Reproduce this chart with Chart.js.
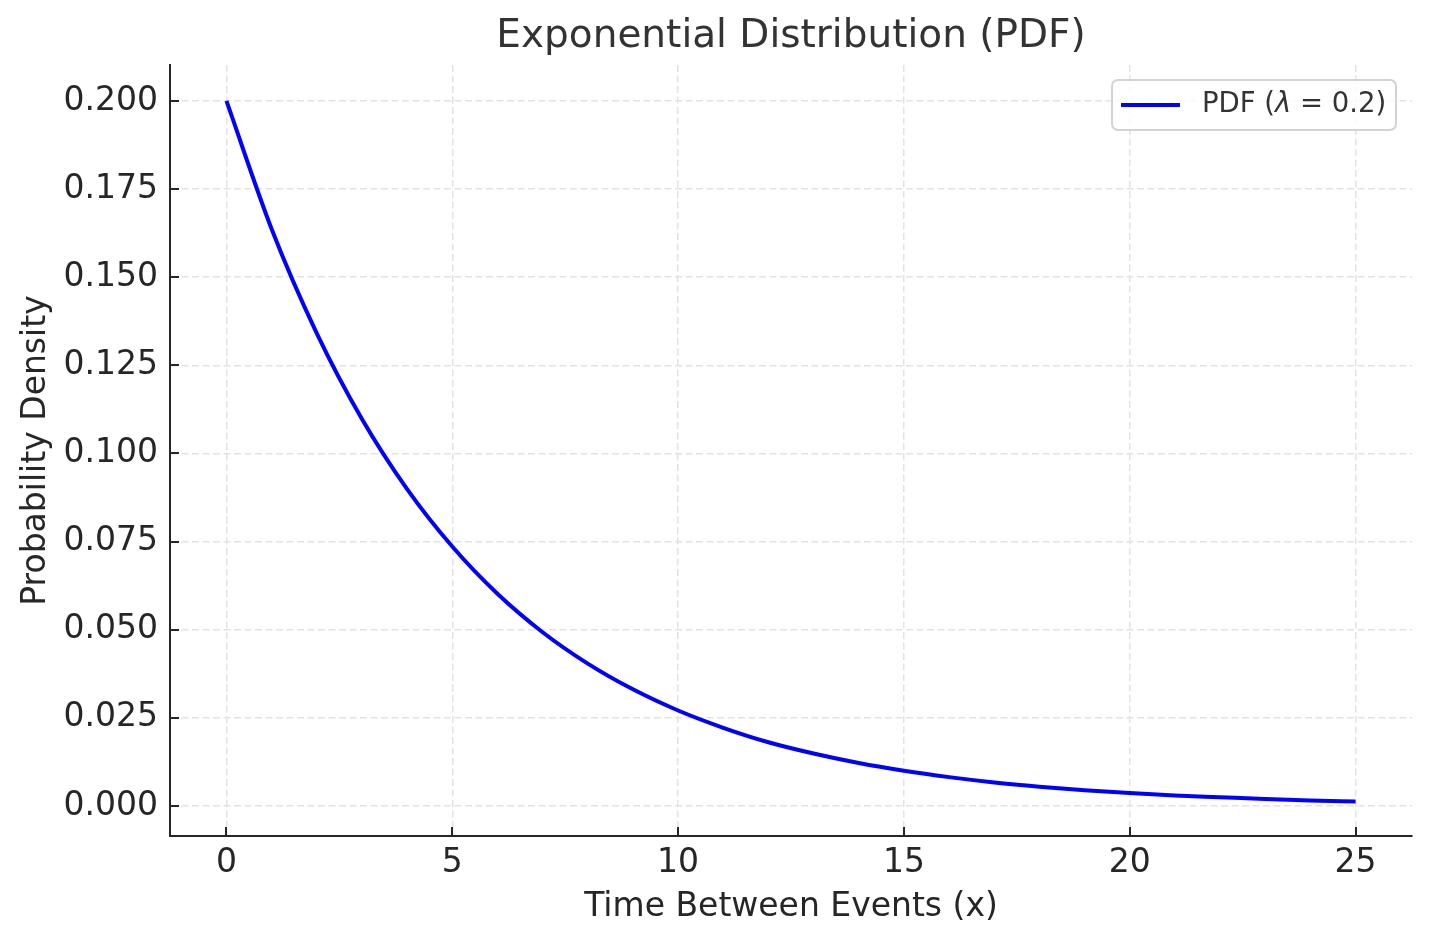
<!DOCTYPE html>
<html>
<head>
<meta charset="utf-8">
<script src="https://cdn.jsdelivr.net/npm/chart.js@4"></script>
<style>
  html, body { margin: 0; padding: 0; background: #ffffff; }
  #wrap { width: 1429px; height: 943px; }
</style>
</head>
<body>
<div id="wrap"><canvas id="expChart" width="1429" height="943"></canvas></div>
<script>
// values
const xValues = [0, 1, 2, 3, 4, 5, 6, 7, 8, 9, 10, 11, 12, 13, 14, 15, 16, 17, 18, 19, 20, 21, 22, 23, 24, 25];
const pdfValues = [0.2000, 0.1637, 0.1341, 0.1098, 0.0899, 0.0736, 0.0602, 0.0493, 0.0404, 0.0331,
                   0.0271, 0.0222, 0.0181, 0.0149, 0.0122, 0.0100, 0.0082, 0.0067, 0.0055, 0.0045,
                   0.0037, 0.0030, 0.0025, 0.0020, 0.0016, 0.0013];
const seriesLabel = "PDF (λ = 0.2)";
const chartTitle = "Exponential Distribution (PDF)";
const xTitle = "Time Between Events (x)";
const yTitle = "Probability Density";

const FONT = "'DejaVu Sans', sans-serif";

// matplotlib style ticks pointing into the plot, title over the plot area, framed legend
const extrasPlugin = {
    id: "extras",
    afterDraw(chart) {
        const ctx = chart.ctx;
        const area = chart.chartArea;
        const xs = chart.scales.x, ys = chart.scales.y;
        ctx.save();
        ctx.strokeStyle = "#262626";
        ctx.lineWidth = 2;
        xs.ticks.forEach(t => {
            const px = Math.round(xs.getPixelForValue(t.value));
            ctx.beginPath();
            ctx.moveTo(px, area.bottom);
            ctx.lineTo(px, area.bottom - 9);
            ctx.stroke();
        });
        ys.ticks.forEach(t => {
            const py = Math.round(ys.getPixelForValue(t.value));
            ctx.beginPath();
            ctx.moveTo(area.left, py);
            ctx.lineTo(area.left + 9, py);
            ctx.stroke();
        });

        // title centred over the plot area
        ctx.fillStyle = "#333333";
        ctx.font = "39px " + FONT;
        ctx.textAlign = "center";
        ctx.textBaseline = "middle";
        ctx.fillText(chartTitle, (area.left + area.right) / 2, 37);

        // legend box
        const bx = 1112, by = 80, bw = 284, bh = 50, r = 6;
        ctx.beginPath();
        ctx.roundRect(bx, by, bw, bh, r);
        ctx.fillStyle = "rgba(255,255,255,0.8)";
        ctx.fill();
        ctx.strokeStyle = "#d3d3d3";
        ctx.lineWidth = 2;
        ctx.stroke();

        const ds = chart.data.datasets[0];
        const cy = by + bh / 2;
        ctx.strokeStyle = ds.borderColor;
        ctx.lineWidth = 4;
        ctx.beginPath();
        ctx.moveTo(bx + 9, cy);
        ctx.lineTo(bx + 68, cy);
        ctx.stroke();

        ctx.fillStyle = "#333333";
        ctx.textBaseline = "middle";
        ctx.textAlign = "left";
        const parts = ds.label.split("λ");
        let tx = bx + 90;
        ctx.font = "27.5px " + FONT;
        ctx.fillText(parts[0], tx, cy);
        tx += ctx.measureText(parts[0]).width;
        ctx.font = "italic 27.5px " + FONT;
        ctx.fillText("λ", tx, cy);
        tx += ctx.measureText("λ").width;
        ctx.font = "27.5px " + FONT;
        ctx.fillText(parts[1], tx, cy);
        ctx.restore();
    }
};

const gridStyle = {
    color: "#e3e3e3",
    lineWidth: 1.5,
    drawTicks: false
};

new Chart(document.getElementById("expChart").getContext("2d"), {
    type: "line",
    data: {
        labels: xValues,
        datasets: [{
            label: seriesLabel,
            data: xValues.map((x, i) => ({ x: x, y: pdfValues[i] })),
            borderColor: "#0000ff",
            borderWidth: 4,
            pointRadius: 0,
            fill: false,
            cubicInterpolationMode: "monotone"
        }]
    },
    options: {
        responsive: false,
        animation: false,
        layout: { padding: { left: 0, right: 17, top: 65, bottom: 0 } },
        plugins: {
            legend: { display: false },
            tooltip: { enabled: false },
            title: { display: false }
        },
        scales: {
            x: {
                type: "linear",
                min: -1.25,
                max: 26.25,
                afterFit(scale) { scale.height = 107; },
                grid: Object.assign({}, gridStyle),
                border: { display: true, color: "#262626", width: 2, dash: [7, 3.5] },
                ticks: {
                    stepSize: 5,
                    includeBounds: false,
                    padding: 8,
                    color: "#262626",
                    font: { family: FONT, size: 33 },
                    maxRotation: 0
                },
                title: {
                    display: true,
                    text: xTitle,
                    color: "#262626",
                    font: { family: FONT, size: 33 },
                    padding: { top: 0, bottom: 16 }
                }
            },
            y: {
                min: -0.0085,
                max: 0.2102,
                afterFit(scale) { scale.width = 170; },
                grid: Object.assign({}, gridStyle),
                border: { display: true, color: "#262626", width: 2, dash: [7, 3.5] },
                ticks: {
                    stepSize: 0.025,
                    includeBounds: false,
                    padding: 12,
                    color: "#262626",
                    font: { family: FONT, size: 33 },
                    callback: v => v.toFixed(3)
                },
                title: {
                    display: true,
                    text: yTitle,
                    color: "#262626",
                    font: { family: FONT, size: 33 },
                    padding: { top: 17, bottom: 0 }
                }
            }
        }
    },
    plugins: [extrasPlugin]
});
</script>
</body>
</html>
